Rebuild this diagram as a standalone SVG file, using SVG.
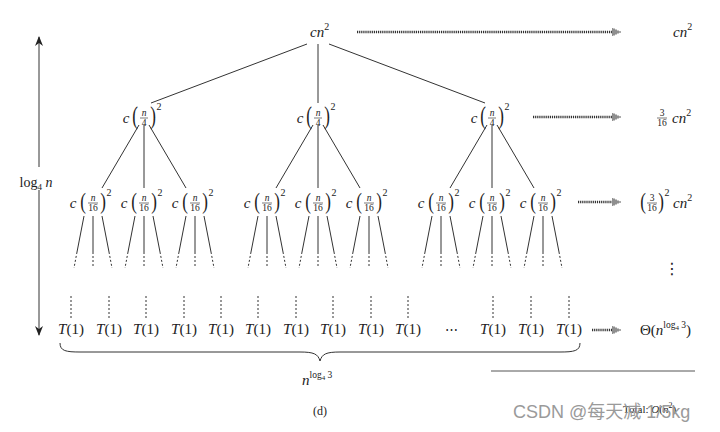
<svg xmlns="http://www.w3.org/2000/svg" width="720" height="432" viewBox="0 0 720 432">
<defs>
<marker id="dh" markerUnits="userSpaceOnUse" markerWidth="12" markerHeight="10" refX="0" refY="5" orient="auto" viewBox="0 0 12 10">
<path d="M0,1V9M2,1.5V8.5M4,2.5V7.5M6,3.5V6.5M8,4.3V5.7" stroke="#333" stroke-width="1.1" fill="none"/>
</marker>
<marker id="ah" markerUnits="userSpaceOnUse" markerWidth="12" markerHeight="10" refX="9" refY="5" orient="auto" viewBox="0 0 12 10">
<path d="M0,1L10,5L0,9L3,5Z" fill="#222"/>
</marker>
</defs>
<style>
text{font-family:"Liberation Serif","DejaVu Serif",serif;fill:#222}
.v{font-style:italic;font-size:15px}
.p{font-size:17px;text-anchor:middle}
.fn{font-style:italic;font-size:9.5px;text-anchor:middle}
.fd{font-size:9.5px;text-anchor:middle}
.sp{font-size:10px;text-anchor:middle}
.bar{stroke:#222;stroke-width:0.6}
.tr{stroke:#333;stroke-width:1;fill:none}
.td{stroke:#333;stroke-width:1;fill:none;stroke-dasharray:2 2}
.da{stroke:#333;stroke-width:2.4;stroke-dasharray:1.2 0.9;fill:none;marker-end:url(#dh)}
.t1{font-size:15px;text-anchor:middle}
.wm{font-family:"Liberation Sans","Noto Sans CJK SC",sans-serif;fill:#9a9a9a;font-size:18px}
</style>
<rect width="720" height="432" fill="#fff"/>

<g id="connectors">
<path class="tr" d="M307,44L151,103M318,44V103M329,44L485,103"/>
<path class="tr" d="M139,125L102,188M144,125V188M149,125L186,188M313,125L276,188M318,125V188M323,125L360,188M487,125L450,188M492,125V188M497,125L534,188"/>
<path class="tr" d="M84,216L77,252M93,216V252M102,216L109,252M135,216L128,252M144,216V252M153,216L160,252M186,216L179,252M195,216V252M204,216L211,252M258,216L251,252M267,216V252M276,216L283,252M309,216L302,252M318,216V252M327,216L334,252M360,216L353,252M369,216V252M378,216L385,252M432,216L425,252M441,216V252M450,216L457,252M483,216L476,252M492,216V252M501,216L508,252M534,216L527,252M543,216V252M552,216L559,252"/>
<path class="td" d="M77,252L74,268M93,252V268M109,252L112,268M128,252L125,268M144,252V268M160,252L163,268M179,252L176,268M195,252V268M211,252L214,268M251,252L248,268M267,252V268M283,252L286,268M302,252L299,268M318,252V268M334,252L337,268M353,252L350,268M369,252V268M385,252L388,268M425,252L422,268M441,252V268M457,252L460,268M476,252L473,268M492,252V268M508,252L511,268M527,252L524,268M543,252V268M559,252L562,268"/>
<path class="td" d="M71,296V318M109,296V318M146,296V318M184,296V318M221,296V318M258,296V318M296,296V318M333,296V318M371,296V318M408,296V318M493,296V318M531,296V318M569,296V318"/>
<path class="da" d="M357,32H612"/>
<path class="da" d="M533,117H612"/>
<path class="da" d="M578,202H612"/>
<path class="da" d="M592,330H612"/>
<path d="M39,167V37" stroke="#333" stroke-width="1" marker-end="url(#ah)"/>
<path d="M39,190V335" stroke="#333" stroke-width="1" marker-end="url(#ah)"/>
<path class="tr" d="M60,343C60,351 66,352 80,352L300,352C314,352 318,354 320,361C322,354 326,352 340,352L560,352C574,352 580,351 580,343"/>
<path d="M491,371H695" stroke="#555" stroke-width="1"/>
</g>

<g id="root"><text x="310" y="37" class="v" font-size="16">cn<tspan dy="-7" font-style="normal" font-size="10">2</tspan></text></g>

<g id="l1a" transform="translate(144,118)"><text class="v" x="-18" y="5" text-anchor="middle">c</text><text class="p" transform="translate(-9,6) scale(1,1.45)">(</text><text class="fn" x="0" y="-2">n</text><line class="bar" x1="-4" x2="4" y1="0" y2="0"/><text class="fd" x="0" y="8">4</text><text class="p" transform="translate(9,6) scale(1,1.45)">)</text><text class="sp" x="15" y="-8">2</text></g>
<g id="l1b" transform="translate(318,118)"><text class="v" x="-18" y="5" text-anchor="middle">c</text><text class="p" transform="translate(-9,6) scale(1,1.45)">(</text><text class="fn" x="0" y="-2">n</text><line class="bar" x1="-4" x2="4" y1="0" y2="0"/><text class="fd" x="0" y="8">4</text><text class="p" transform="translate(9,6) scale(1,1.45)">)</text><text class="sp" x="15" y="-8">2</text></g>
<g id="l1c" transform="translate(492,118)"><text class="v" x="-18" y="5" text-anchor="middle">c</text><text class="p" transform="translate(-9,6) scale(1,1.45)">(</text><text class="fn" x="0" y="-2">n</text><line class="bar" x1="-4" x2="4" y1="0" y2="0"/><text class="fd" x="0" y="8">4</text><text class="p" transform="translate(9,6) scale(1,1.45)">)</text><text class="sp" x="15" y="-8">2</text></g>

<g id="l2a" transform="translate(93,203)"><text class="v" x="-20" y="5" text-anchor="middle">c</text><text class="p" transform="translate(-10,5.5) scale(1,1.3)">(</text><text class="fn" x="0" y="-2">n</text><line class="bar" x1="-5" x2="5" y1="0" y2="0"/><text class="fd" x="0" y="8">16</text><text class="p" transform="translate(10,5.5) scale(1,1.3)">)</text><text class="sp" x="16" y="-7">2</text></g>
<g id="l2b" transform="translate(144,203)"><text class="v" x="-20" y="5" text-anchor="middle">c</text><text class="p" transform="translate(-10,5.5) scale(1,1.3)">(</text><text class="fn" x="0" y="-2">n</text><line class="bar" x1="-5" x2="5" y1="0" y2="0"/><text class="fd" x="0" y="8">16</text><text class="p" transform="translate(10,5.5) scale(1,1.3)">)</text><text class="sp" x="16" y="-7">2</text></g>
<g id="l2c" transform="translate(195,203)"><text class="v" x="-20" y="5" text-anchor="middle">c</text><text class="p" transform="translate(-10,5.5) scale(1,1.3)">(</text><text class="fn" x="0" y="-2">n</text><line class="bar" x1="-5" x2="5" y1="0" y2="0"/><text class="fd" x="0" y="8">16</text><text class="p" transform="translate(10,5.5) scale(1,1.3)">)</text><text class="sp" x="16" y="-7">2</text></g>
<g id="l2d" transform="translate(267,203)"><text class="v" x="-20" y="5" text-anchor="middle">c</text><text class="p" transform="translate(-10,5.5) scale(1,1.3)">(</text><text class="fn" x="0" y="-2">n</text><line class="bar" x1="-5" x2="5" y1="0" y2="0"/><text class="fd" x="0" y="8">16</text><text class="p" transform="translate(10,5.5) scale(1,1.3)">)</text><text class="sp" x="16" y="-7">2</text></g>
<g id="l2e" transform="translate(318,203)"><text class="v" x="-20" y="5" text-anchor="middle">c</text><text class="p" transform="translate(-10,5.5) scale(1,1.3)">(</text><text class="fn" x="0" y="-2">n</text><line class="bar" x1="-5" x2="5" y1="0" y2="0"/><text class="fd" x="0" y="8">16</text><text class="p" transform="translate(10,5.5) scale(1,1.3)">)</text><text class="sp" x="16" y="-7">2</text></g>
<g id="l2f" transform="translate(369,203)"><text class="v" x="-20" y="5" text-anchor="middle">c</text><text class="p" transform="translate(-10,5.5) scale(1,1.3)">(</text><text class="fn" x="0" y="-2">n</text><line class="bar" x1="-5" x2="5" y1="0" y2="0"/><text class="fd" x="0" y="8">16</text><text class="p" transform="translate(10,5.5) scale(1,1.3)">)</text><text class="sp" x="16" y="-7">2</text></g>
<g id="l2g" transform="translate(441,203)"><text class="v" x="-20" y="5" text-anchor="middle">c</text><text class="p" transform="translate(-10,5.5) scale(1,1.3)">(</text><text class="fn" x="0" y="-2">n</text><line class="bar" x1="-5" x2="5" y1="0" y2="0"/><text class="fd" x="0" y="8">16</text><text class="p" transform="translate(10,5.5) scale(1,1.3)">)</text><text class="sp" x="16" y="-7">2</text></g>
<g id="l2h" transform="translate(492,203)"><text class="v" x="-20" y="5" text-anchor="middle">c</text><text class="p" transform="translate(-10,5.5) scale(1,1.3)">(</text><text class="fn" x="0" y="-2">n</text><line class="bar" x1="-5" x2="5" y1="0" y2="0"/><text class="fd" x="0" y="8">16</text><text class="p" transform="translate(10,5.5) scale(1,1.3)">)</text><text class="sp" x="16" y="-7">2</text></g>
<g id="l2i" transform="translate(543,203)"><text class="v" x="-20" y="5" text-anchor="middle">c</text><text class="p" transform="translate(-10,5.5) scale(1,1.3)">(</text><text class="fn" x="0" y="-2">n</text><line class="bar" x1="-5" x2="5" y1="0" y2="0"/><text class="fd" x="0" y="8">16</text><text class="p" transform="translate(10,5.5) scale(1,1.3)">)</text><text class="sp" x="16" y="-7">2</text></g>

<g id="leaves">
<text class="t1" x="71" y="334"><tspan font-style="italic">T</tspan>(1)</text>
<text class="t1" x="109" y="334"><tspan font-style="italic">T</tspan>(1)</text>
<text class="t1" x="146" y="334"><tspan font-style="italic">T</tspan>(1)</text>
<text class="t1" x="184" y="334"><tspan font-style="italic">T</tspan>(1)</text>
<text class="t1" x="221" y="334"><tspan font-style="italic">T</tspan>(1)</text>
<text class="t1" x="258" y="334"><tspan font-style="italic">T</tspan>(1)</text>
<text class="t1" x="296" y="334"><tspan font-style="italic">T</tspan>(1)</text>
<text class="t1" x="333" y="334"><tspan font-style="italic">T</tspan>(1)</text>
<text class="t1" x="371" y="334"><tspan font-style="italic">T</tspan>(1)</text>
<text class="t1" x="408" y="334"><tspan font-style="italic">T</tspan>(1)</text>
<text class="t1" x="451" y="334" style="font-family:'DejaVu Serif',serif;font-size:13px">⋯</text>
<text class="t1" x="493" y="334"><tspan font-style="italic">T</tspan>(1)</text>
<text class="t1" x="531" y="334"><tspan font-style="italic">T</tspan>(1)</text>
<text class="t1" x="569" y="334"><tspan font-style="italic">T</tspan>(1)</text>
</g>

<g id="cost0"><text x="673" y="37" class="v">cn<tspan dy="-7" font-style="normal" font-size="10">2</tspan></text></g>
<g id="cost1" transform="translate(662,118)"><text class="fd" x="0" y="-2">3</text><line class="bar" x1="-5" x2="5" y1="0" y2="0"/><text class="fd" x="0" y="8">16</text><text x="10" y="5" class="v">cn<tspan dy="-7" font-style="normal" font-size="10">2</tspan></text></g>
<g id="cost2" transform="translate(652,203)"><text class="p" transform="translate(-9,5.5) scale(1,1.3)">(</text><text class="fd" x="0" y="-2">3</text><line class="bar" x1="-5" x2="5" y1="0" y2="0"/><text class="fd" x="0" y="8">16</text><text class="p" transform="translate(9,5.5) scale(1,1.3)">)</text><text class="sp" x="15" y="-7">2</text><text x="21" y="5" class="v">cn<tspan dy="-7" font-style="normal" font-size="10">2</tspan></text></g>
<g id="vdots"><text x="672" y="274" text-anchor="middle" style="font-family:'DejaVu Sans',sans-serif;font-size:16px">⋮</text></g>
<g id="cost3"><text x="640" y="335" font-size="15">Θ(<tspan font-style="italic">n</tspan><tspan font-size="9.5" dy="-7">log</tspan><tspan font-size="7" dy="2">4</tspan><tspan font-size="9.5" dy="-2"> 3</tspan><tspan dy="7">)</tspan></text></g>

<g id="height"><text x="36" y="187" text-anchor="middle" font-size="14">log<tspan font-size="9" dy="3">4</tspan><tspan dy="-3" font-style="italic"> n</tspan></text></g>
<g id="width"><text x="302" y="385" font-size="15"><tspan font-style="italic">n</tspan><tspan font-size="9.5" dy="-7">log</tspan><tspan font-size="7" dy="2">4</tspan><tspan font-size="9.5" dy="-2"> 3</tspan></text></g>
<text x="320" y="415" text-anchor="middle" font-size="12">(d)</text>
<text x="623" y="413" font-size="11">Total: <tspan font-style="italic">O</tspan>(<tspan font-style="italic">n</tspan><tspan font-size="8" dy="-5">2</tspan><tspan dy="5">)</tspan></text>
<text class="wm" x="513" y="418">CSDN @每天减 1/5kg</text>
</svg>
